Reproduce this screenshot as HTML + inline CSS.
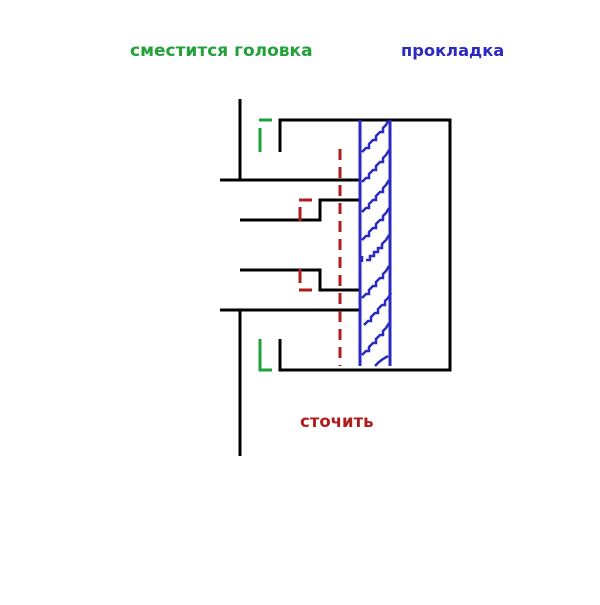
<!DOCTYPE html>
<html><head><style>body{margin:0;background:#fff}</style></head><body>
<svg width="600" height="600" xmlns="http://www.w3.org/2000/svg" font-family="DejaVu Sans, sans-serif" font-weight="bold" font-size="17">
<text x="130" y="56" fill="#22a03a">сместится головка</text>
<text x="401" y="56" fill="#2a2ac0" font-size="16.3">прокладка</text>
<text x="300" y="427" fill="#b01c1c" font-size="16.5">сточить</text>
<g stroke="#000" stroke-width="3" fill="none">
<path d="M240 99V180M220 180H360M220 310H360M240 310V456M360 180V310"/>
<path d="M240 220H320V200H360M240 270H320V290H360"/>
<path d="M280 152V120H450V370H280V339"/>
</g>
<g stroke="#2a2ac0" stroke-width="3" fill="none">
<path d="M360 120V366M390 120V366"/>
<g stroke-width="2.5">
<path d="M362 152l4-4h3v-4l4-4h3v-4l4-4h3v-4l3-3 2-4"/>
<path d="M362 182l4-4h3v-4l4-4h3v-4l4-4h3v-4l3-3 3-5"/>
<path d="M362 212l4-4h3v-4l4-4h3v-4l4-4h3v-4l3-3 3-5"/>
<path d="M362 240l4-4h3v-4l4-4h3v-4l4-4h3v-4l3-3 3-5"/>
<path d="M362 262v-6M366 260h4v-4h4v-4h4v-4h4v-4l4-4 3-5"/>
<path d="M362 298l4-4h3v-4l4-4h3v-4l4-4h3v-4l3-3 3-5"/>
<path d="M364 325l4-4h3v-4l4-4h3v-4l4-4h3v-4l3-3 3-5"/>
<path d="M362 355l4-4h3v-4l4-4h3v-4l4-4h3v-4l3-3 3-5"/>
<path d="M375 366l4-4 4-3 5-3"/>
</g>
</g>
<g stroke="#22a03a" stroke-width="3" fill="none">
<path d="M259 120H272M260 128V152M260 339V370H272"/>
</g>
<g stroke="#b01c1c" stroke-width="3" fill="none">
<path d="M340 149V366" stroke-dasharray="11 7"/>
<path d="M299 200H312M300 207V221M300 269V283M299 290H312"/>
</g>
</svg>
</body></html>
